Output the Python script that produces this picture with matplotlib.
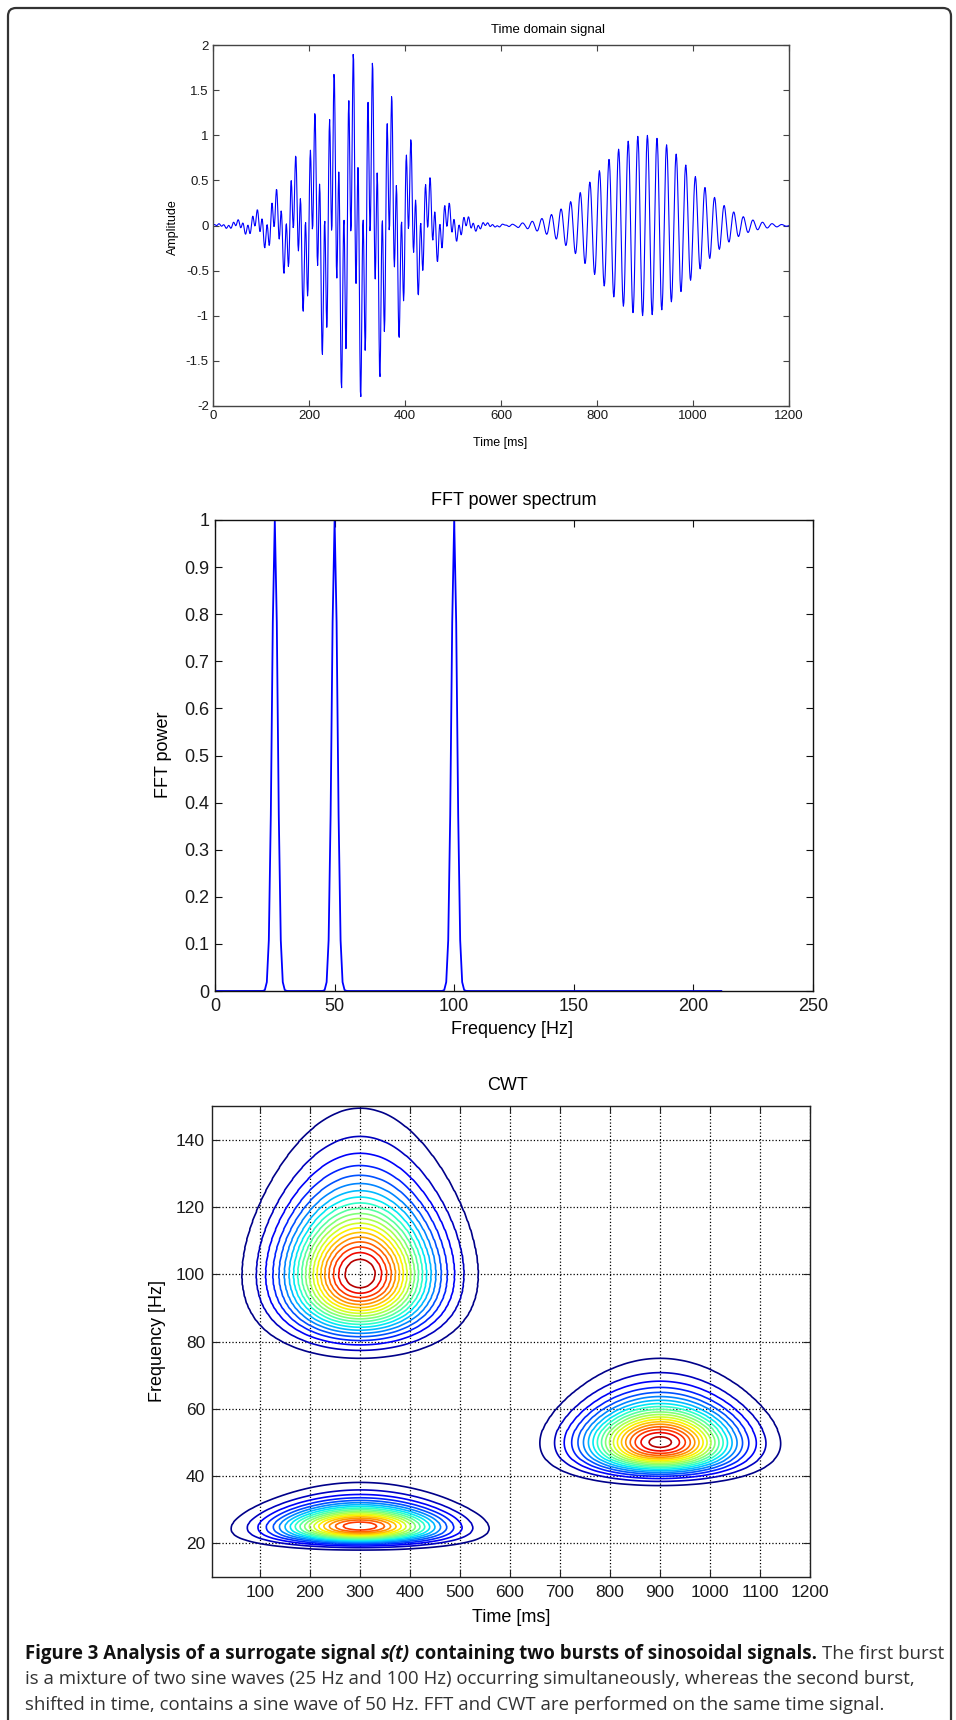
import numpy as np
import matplotlib
matplotlib.use('Agg')
import matplotlib.pyplot as plt
from matplotlib.patches import FancyBboxPatch
from matplotlib.transforms import IdentityTransform
from matplotlib.ticker import FormatStrFormatter

# surrogate signal: bursts (ms, Hz)
burst_centre_ms = [300, 300, 900]
burst_freq_hz = [25, 100, 50]
burst_amp = [1.0, 1.0, 1.0]
burst_sigma_ms = [95, 95, 95]
n_samples = 1200          # 1 kHz sampling -> 1 sample per ms
fft_fmax_hz = 212         # spectrum trace stops here
morlet_w0 = 7.5
cwt_freqs_hz = np.arange(10, 150.5, 0.5)
n_levels = 20

amp_ticks = [-2, -1.5, -1, -0.5, 0, 0.5, 1, 1.5, 2]
time_ticks = [0, 200, 400, 600, 800, 1000, 1200]
fft_xticks = [0, 50, 100, 150, 200, 250]
fft_yticks = [0, 0.1, 0.2, 0.3, 0.4, 0.5, 0.6, 0.7, 0.8, 0.9, 1]
cwt_xticks = [100, 200, 300, 400, 500, 600, 700, 800, 900, 1000, 1100, 1200]
cwt_yticks = [20, 40, 60, 80, 100, 120, 140]

W_PX, H_PX = 956, 1720
plt.rcParams['font.family'] = ['Liberation Sans', 'DejaVu Sans']
plt.rcParams['axes.unicode_minus'] = False


def fx(x):
    return x / W_PX


def fy(y):
    return 1 - y / H_PX


def box(x0, y0, x1, y1):
    return [fx(x0), fy(y1), (x1 - x0) / W_PX, (y1 - y0) / H_PX]


def style(ax, size, col, ticklen):
    for s in ax.spines.values():
        s.set_color(col)
        s.set_linewidth(1.0)
    ax.tick_params(direction='in', top=True, right=True, length=ticklen, width=0.8,
                   color=col, labelcolor='#1a1a1a', labelsize=size)


# build signal
t_ms = np.arange(n_samples)
sig = np.zeros(n_samples)
for c, f, a, s in zip(burst_centre_ms, burst_freq_hz, burst_amp, burst_sigma_ms):
    sig += a * np.exp(-(t_ms - c) ** 2 / (2.0 * s ** 2)) * np.sin(2 * np.pi * f * t_ms / 1000.0)

# FFT power
spec = np.abs(np.fft.rfft(sig)) ** 2
spec = spec / spec.max()
fft_f = np.fft.rfftfreq(n_samples, d=1 / 1000.0)
keep = fft_f <= fft_fmax_hz

# Morlet CWT magnitude
cwt = np.empty((len(cwt_freqs_hz), n_samples))
for i, f in enumerate(cwt_freqs_hz):
    sd = morlet_w0 / (2 * np.pi * f)
    tw = np.arange(-4 * sd, 4 * sd + 0.0005, 0.001)
    g = np.exp(-tw ** 2 / (2 * sd ** 2))
    psi = g * np.exp(2j * np.pi * f * tw) / (g.sum() / 2)
    cwt[i] = np.abs(np.convolve(sig, np.conj(psi)[::-1], mode='same'))
cwt = cwt / cwt.max()

fig = plt.figure(figsize=(W_PX / 100, H_PX / 100), dpi=100)

# panel 1: time domain
ax1 = fig.add_axes(box(213, 45, 789, 406))
ax1.plot(t_ms, sig, color='#0000ff', lw=0.8)
ax1.set_xlim(0, 1200)
ax1.set_ylim(-2, 2)
ax1.set_xticks(time_ticks)
ax1.set_yticks(amp_ticks)
ax1.yaxis.set_major_formatter(FormatStrFormatter('%g'))
style(ax1, 9.5, '#444444', 4)
ax1.tick_params(pad=3)
fig.text(fx(548), fy(30), 'Time domain signal', ha='center', va='center', fontsize=9.5)
fig.text(fx(500), fy(443), 'Time [ms]', ha='center', va='center', fontsize=9)
fig.text(fx(173), fy(227), 'Amplitude', ha='center', va='center', rotation=90, fontsize=9)

# panel 2: FFT
ax2 = fig.add_axes(box(215, 520, 813, 991))
ax2.plot(fft_f[keep], spec[keep], color='#0000ff', lw=1.3)
ax2.set_xlim(0, 250)
ax2.set_ylim(0, 1)
ax2.set_xticks(fft_xticks)
ax2.set_yticks(fft_yticks)
ax2.yaxis.set_major_formatter(FormatStrFormatter('%g'))
style(ax2, 13, '#111111', 5)
ax2.tick_params(axis='x', pad=5)
ax2.tick_params(axis='y', pad=4)
fig.text(fx(514), fy(500), 'FFT power spectrum', ha='center', va='center', fontsize=13)
fig.text(fx(512), fy(1030), 'Frequency [Hz]', ha='center', va='center', fontsize=13)
fig.text(fx(163), fy(755), 'FFT power', ha='center', va='center', rotation=90, fontsize=13)

# panel 3: CWT
ax3 = fig.add_axes(box(212, 1106, 810, 1577))
levels = np.arange(1, n_levels + 1) / (n_levels + 1)
ax3.contour(t_ms, cwt_freqs_hz, cwt, levels=levels, cmap='jet', vmin=0.04, vmax=1,
            linewidths=1.2)
ax3.set_xlim(4, 1200)
ax3.set_ylim(10, 150)
ax3.set_xticks(cwt_xticks)
ax3.set_yticks(cwt_yticks)
ax3.grid(True, color='black', linestyle=':', linewidth=0.9)
style(ax3, 12.5, '#222222', 5)
ax3.tick_params(axis='x', pad=6)
ax3.tick_params(axis='y', pad=5)
fig.text(fx(508), fy(1085), 'CWT', ha='center', va='center', fontsize=13)
fig.text(fx(511), fy(1617), 'Time [ms]', ha='center', va='center', fontsize=13)
fig.text(fx(157), fy(1341), 'Frequency [Hz]', ha='center', va='center', rotation=90, fontsize=13)

# frame
frame = FancyBboxPatch((8, -40), 943, H_PX - 8 + 40, boxstyle='round,pad=0,rounding_size=8',
                       transform=IdentityTransform(), fill=False, edgecolor='#333333', lw=1.6)
fig.add_artist(frame)

# caption with mixed weights
cap_font = ['Open Sans', 'DejaVu Sans']
renderer = fig.canvas.get_renderer()


def text_w(s, size, weight='normal', style='normal'):
    t = fig.text(0, 0, s, fontsize=size, fontweight=weight, fontstyle=style, family=cap_font)
    w = t.get_window_extent(renderer).width
    t.remove()
    return w


def put_line(y, pieces, size):
    x = 25
    gap = text_w('a a', size) - text_w('aa', size)
    for s, weight, style, col in pieces:
        t = fig.text(fx(x), fy(y), s, fontsize=size, fontweight=weight, fontstyle=style,
                     family=cap_font, color=col, va='baseline')
        x += t.get_window_extent(renderer).width + gap
    return x


line1 = [('Figure 3 Analysis of a surrogate signal', 'bold', 'normal', '#111111'),
         ('s(t)', 'bold', 'italic', '#111111'),
         ('containing two bursts of sinosoidal signals.', 'bold', 'normal', '#111111'),
         ('The first burst', 'normal', 'normal', '#333333')]
line2 = [('is a mixture of two sine waves (25 Hz and 100 Hz) occurring simultaneously, '
          'whereas the second burst,', 'normal', 'normal', '#333333')]
line3 = [('shifted in time, contains a sine wave of 50 Hz. FFT and CWT are performed on '
          'the same time signal.', 'normal', 'normal', '#333333')]

base = 12.0
gap0 = text_w('a a', base) - text_w('aa', base)
w1 = sum(text_w(s, base, wt, st) for s, wt, st, c in line1) + 3 * gap0
cap_size = base * 918 / w1

put_line(1659, line1, cap_size)
put_line(1684, line2, cap_size)
put_line(1710, line3, cap_size)

fig.savefig('out.png', dpi=100)
